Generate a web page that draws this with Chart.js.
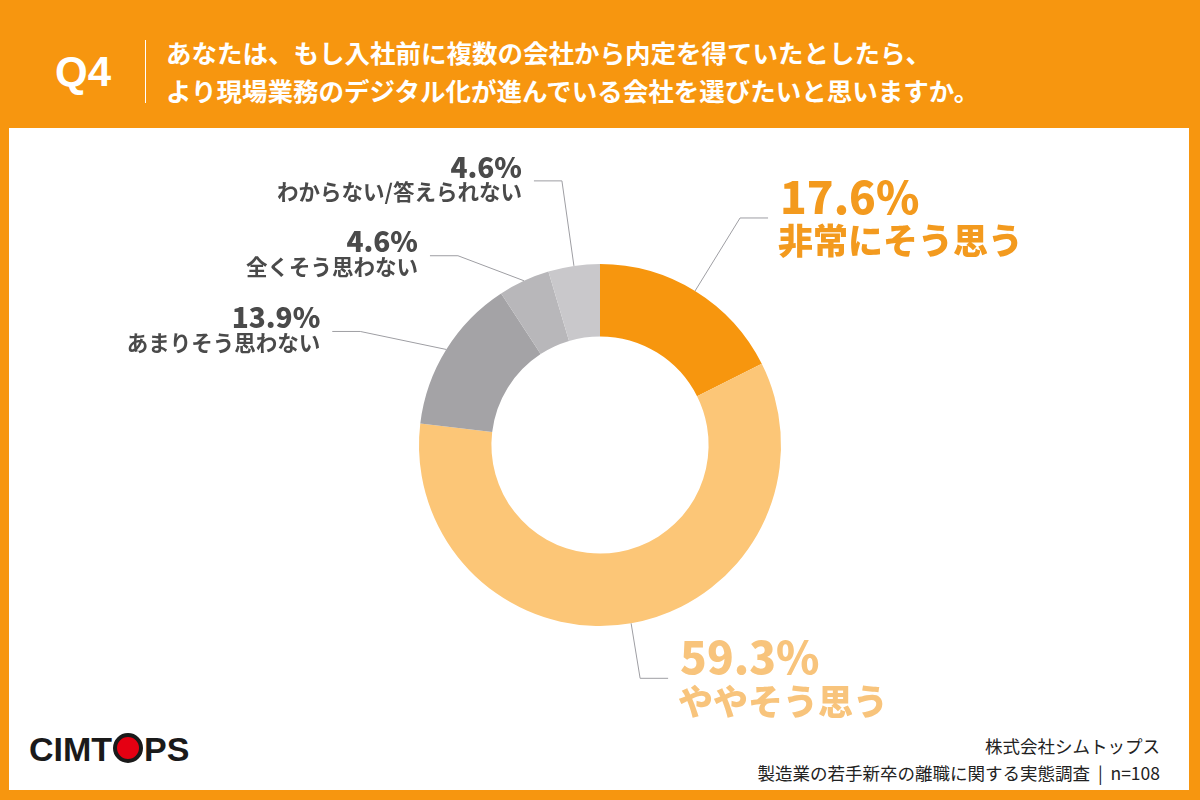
<!DOCTYPE html>
<html lang="ja">
<head>
<meta charset="utf-8">
<title>Q4</title>
<script src="https://cdn.jsdelivr.net/npm/chart.js@4.4.1/dist/chart.umd.min.js"></script>
<style>
  html, body { margin: 0; padding: 0; }
  body {
    width: 1200px; height: 800px; position: relative; overflow: hidden;
    background: #F7960F;
    font-family: "Noto Sans CJK JP", "Noto Sans", sans-serif;
  }
  #panel {
    position: absolute; left: 9px; top: 128px; width: 1180px; height: 662px;
    background: #fff;
  }
  #q {
    position: absolute; left: 55px; top: 46px;
    color: #fff; font: 700 42px "Liberation Sans", "Noto Sans", sans-serif;
    line-height: 52px;
  }
  #sep {
    position: absolute; left: 145px; top: 40px; width: 1px; height: 63px;
    background: #fff;
  }
  #title {
    position: absolute; left: 166px; top: 33px;
    color: #fff; font-weight: 700; font-size: 25.5px; line-height: 38px;
  }
  #logo {
    position: absolute; left: 29px; top: 730px;
    font: 700 34px "Liberation Sans", sans-serif; color: #1a1a1a;
  }
  #logo .o {
    display: inline-block; width: 22px; height: 22px; border-radius: 50%;
    background: #E50012; border: 4px solid #1a1a1a; vertical-align: -2px;
    margin: 0 1px;
  }
  #source {
    position: absolute; right: 40px; top: 732px; text-align: right;
    color: #222; font-size: 17.5px; line-height: 27px;
  }
  #chart { position: absolute; left: 0; top: 0; }
</style>
</head>
<body>
<div id="panel"></div>
<div id="q">Q4</div>
<div id="sep"></div>
<div id="title">あなたは、もし入社前に複数の会社から内定を得ていたとしたら、<br>より現場業務のデジタル化が進んでいる会社を選びたいと思いますか。</div>
<div id="logo">CIMT<span class="o"></span>PS</div>
<div id="source">株式会社シムトップス<br>製造業の若手新卒の離職に関する実態調査&nbsp;&nbsp;|&nbsp;&nbsp;n=108</div>
<canvas id="chart" width="1200" height="800"></canvas>

<script>
// data
const categories = ['非常にそう思う', 'ややそう思う', 'あまりそう思わない', '全くそう思わない', 'わからない/答えられない'];
const values = [17.6, 59.3, 13.9, 4.6, 4.6];
const sliceColors = ['#F7960E', '#FCC677', '#A4A3A6', '#B8B7BA', '#C9C8CB'];
const labelColors = ['#F39A1E', '#F8C47C', '#4A4A4A', '#4A4A4A', '#4A4A4A'];

// leader line layout: elbow offset from arc point, side of text
const leaders = [
    { dx: 45, dy: -73, side: 1, big: true },
    { dx: 9, dy: 55, side: 1, big: true },
    { dx: -86, dy: -18, side: -1, big: false },
    { dx: -66, dy: -25, side: -1, big: false },
    { dx: -12, dy: -85, side: -1, big: false }
];

const labelPlugin = {
    id: 'leaderLabels',
    afterDatasetsDraw(chart) {
        const ctx = chart.ctx;
        const meta = chart.getDatasetMeta(0);
        meta.data.forEach((arc, i) => {
            const p = arc.getProps(['x', 'y', 'startAngle', 'endAngle', 'outerRadius'], true);
            const mid = (p.startAngle + p.endAngle) / 2;
            const ax = p.x + Math.cos(mid) * p.outerRadius;
            const ay = p.y + Math.sin(mid) * p.outerRadius;
            const L = leaders[i];
            const ex = ax + L.dx, ey = ay + L.dy;
            const hx = ex + L.side * 28;

            ctx.save();
            ctx.strokeStyle = '#9E9EA3';
            ctx.lineWidth = 1;
            ctx.beginPath();
            ctx.moveTo(ax, ay);
            ctx.lineTo(ex, ey);
            ctx.lineTo(hx, ey);
            ctx.stroke();

            const tx = hx + L.side * 12;
            ctx.textAlign = L.side > 0 ? 'left' : 'right';
            ctx.textBaseline = 'middle';
            ctx.fillStyle = labelColors[i];
            const pct = values[i].toFixed(1) + '%';
            if (L.big) {
                ctx.font = '900 44px "Noto Sans CJK JP", sans-serif';
                ctx.fillText(pct, tx, ey - 21);
                ctx.font = '900 35px "Noto Sans CJK JP", sans-serif';
                ctx.fillText(categories[i], tx - L.side * 2, ey + 23);
            } else {
                ctx.font = '900 28px "Noto Sans CJK JP", sans-serif';
                ctx.fillText(pct, tx, ey - 14);
                ctx.font = '700 21.5px "Noto Sans CJK JP", sans-serif';
                ctx.fillText(categories[i], tx, ey + 11);
            }
            ctx.restore();
        });
    }
};

const config = {
    type: 'doughnut',
    data: {
        labels: categories,
        datasets: [{
            data: values,
            backgroundColor: sliceColors,
            borderWidth: 0
        }]
    },
    options: {
        responsive: false,
        animation: false,
        cutout: '60%',
        layout: {
            padding: { top: 264, bottom: 174, left: 400, right: 400 }
        },
        plugins: {
            legend: { display: false },
            tooltip: { enabled: false },
            title: { display: false }
        }
    },
    plugins: [labelPlugin]
};

var ctx = document.getElementById('chart').getContext('2d');
var myChart = new Chart(ctx, config);
</script>
</body>
</html>
